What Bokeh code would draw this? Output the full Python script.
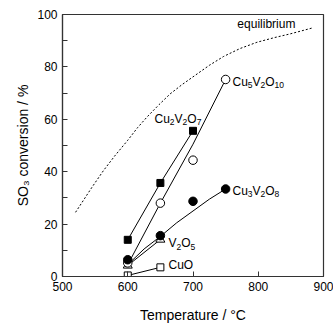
import math
from bokeh.plotting import figure
from bokeh.models import Range1d, Label, FixedTicker
from bokeh.embed import file_html
from bokeh.resources import INLINE

# ---- data ----
temp_cu2v2o7 = [600, 650, 700]
conv_cu2v2o7 = [14.0, 35.7, 55.6]

temp_cu5v2o10 = [600, 650, 700, 750]
conv_cu5v2o10 = [5.2, 28.0, 44.4, 75.2]
fit_cu5v2o10_x = [600, 650, 700, 750]
fit_cu5v2o10_y = [4.5, 28.0, 50.5, 75.2]

temp_cu3v2o8 = [600, 650, 700, 750]
conv_cu3v2o8 = [6.4, 15.6, 28.7, 33.4]
fit_cu3v2o8_x = [600, 625, 650, 675, 700, 725, 750]
fit_cu3v2o8_y = [4.5, 10.5, 15.3, 20.5, 25.0, 29.5, 33.4]

temp_v2o5 = [600, 650]
conv_v2o5 = [4.2, 14.1]

temp_cuo = [600, 650]
conv_cuo = [0.4, 3.5]

eq_x = [520, 545, 563, 580, 600, 615, 630, 648, 665, 683, 700, 725, 747, 772, 798, 825, 849, 882]
eq_y = [24.5, 34.0, 40.5, 46.0, 52.0, 56.8, 61.0, 65.6, 69.7, 73.2, 76.2, 80.6, 84.0, 87.0, 89.4, 91.2, 92.6, 94.8]

x_ticks = [500, 600, 700, 800, 900]
y_ticks = [0, 20, 40, 60, 80, 100]

FONT = "Liberation Sans"
INK = "#000000"
AXC = "#333333"

FW, FH = 261, 262
X0, X1, Y0, Y1 = 500, 900, 0, 100

p = figure(frame_width=FW, frame_height=FH, output_backend="svg",
           toolbar_location=None, x_range=Range1d(X0, X1),
           y_range=Range1d(Y0, Y1), min_border_left=62, min_border_right=10,
           min_border_top=14, min_border_bottom=47)
p.grid.visible = False
p.outline_line_color = AXC
p.outline_line_width = 1.2
p.background_fill_color = "white"
p.border_fill_color = "white"

for ax in (p.xaxis[0], p.yaxis[0]):
    ax.axis_line_color = AXC
    ax.axis_line_width = 1.2
    ax.major_tick_line_color = AXC
    ax.minor_tick_line_color = AXC
    ax.major_tick_in = 5
    ax.major_tick_out = 0
    ax.minor_tick_in = 5
    ax.minor_tick_out = 0
    ax.major_label_text_font = FONT
    ax.major_label_text_font_size = "12px"
    ax.major_label_text_color = INK
    ax.major_label_standoff = 5
    ax.axis_label_text_font = FONT
    ax.axis_label_text_font_size = "14px"
    ax.axis_label_text_font_style = "normal"
    ax.axis_label_text_color = INK

p.xaxis.ticker = FixedTicker(ticks=x_ticks)
p.yaxis.ticker = FixedTicker(ticks=y_ticks, minor_ticks=[10, 30, 50, 70, 90])
p.xaxis.axis_label = "Temperature / °C"
p.xaxis.axis_label_standoff = 13
p.yaxis.axis_label = "SO\u2083 conversion / %"
p.yaxis.axis_label_standoff = 3

# equilibrium curve
p.line(eq_x, eq_y, line_color=INK, line_width=1, line_dash="2 2")

# fitted / connecting lines
p.line(temp_cu2v2o7, conv_cu2v2o7, line_color=INK, line_width=1)
p.line(fit_cu5v2o10_x, fit_cu5v2o10_y, line_color=INK, line_width=1)
p.line(fit_cu3v2o8_x, fit_cu3v2o8_y, line_color=INK, line_width=1)
p.line(temp_v2o5, conv_v2o5, line_color=INK, line_width=1)
p.line(temp_cuo, conv_cuo, line_color=INK, line_width=1)

# markers
p.scatter(temp_cuo, conv_cuo, marker="square", size=7, fill_color="white", line_color=INK, line_width=1)
p.scatter(temp_v2o5, conv_v2o5, marker="triangle", size=9, fill_color="white", line_color=INK, line_width=1)
p.scatter(temp_cu5v2o10, conv_cu5v2o10, marker="circle", size=8.5, fill_color="white", line_color=INK, line_width=1)
p.scatter(temp_cu3v2o8, conv_cu3v2o8, marker="circle", size=8.5, fill_color=INK, line_color=INK, line_width=1)
p.scatter(temp_cu2v2o7, conv_cu2v2o7, marker="square", size=7, fill_color=INK, line_color=INK, line_width=1)

# ---- rich text helper ----
W = {"C": 722, "u": 556, "V": 667, "O": 778, "S": 667, "c": 500, "o": 556,
     "n": 556, "v": 500, "e": 556, "r": 333, "s": 500, "i": 222, " ": 278,
     "/": 278, "%": 889, "q": 556, "l": 222, "b": 556, "m": 833}

PX_X = FW / (X1 - X0)   # pixels per data unit along x
PX_Y = FH / (Y1 - Y0)   # pixels per data unit along y


def tw(t, fs):
    return sum(W.get(ch, 556) for ch in t) * fs / 1000.0


def rich(x, y, segs, size=12, sub=8.5, drop=3.5):
    off = 0
    for t, s in segs:
        fs = sub if s else size
        p.add_layout(Label(x=x + off / PX_X, y=y - (drop if s else 0) / PX_Y,
                           text=t, text_font=FONT, text_font_size=f"{fs}px",
                           text_color=INK, text_baseline="middle", text_align="left"))
        off += tw(t, fs)


rich(760.5, 74.4, [("Cu", 0), ("5", 1), ("V", 0), ("2", 1), ("O", 0), ("10", 1)])
rich(641.0, 60.3, [("Cu", 0), ("2", 1), ("V", 0), ("2", 1), ("O", 0), ("7", 1)])
rich(760.5, 32.8, [("Cu", 0), ("3", 1), ("V", 0), ("2", 1), ("O", 0), ("8", 1)])
rich(662.5, 12.6, [("V", 0), ("2", 1), ("O", 0), ("5", 1)])
rich(662.5, 4.2, [("CuO", 0)])
rich(768.0, 96.2, [("equilibrium", 0)])

open("out.html", "w").write(file_html(p, INLINE))
